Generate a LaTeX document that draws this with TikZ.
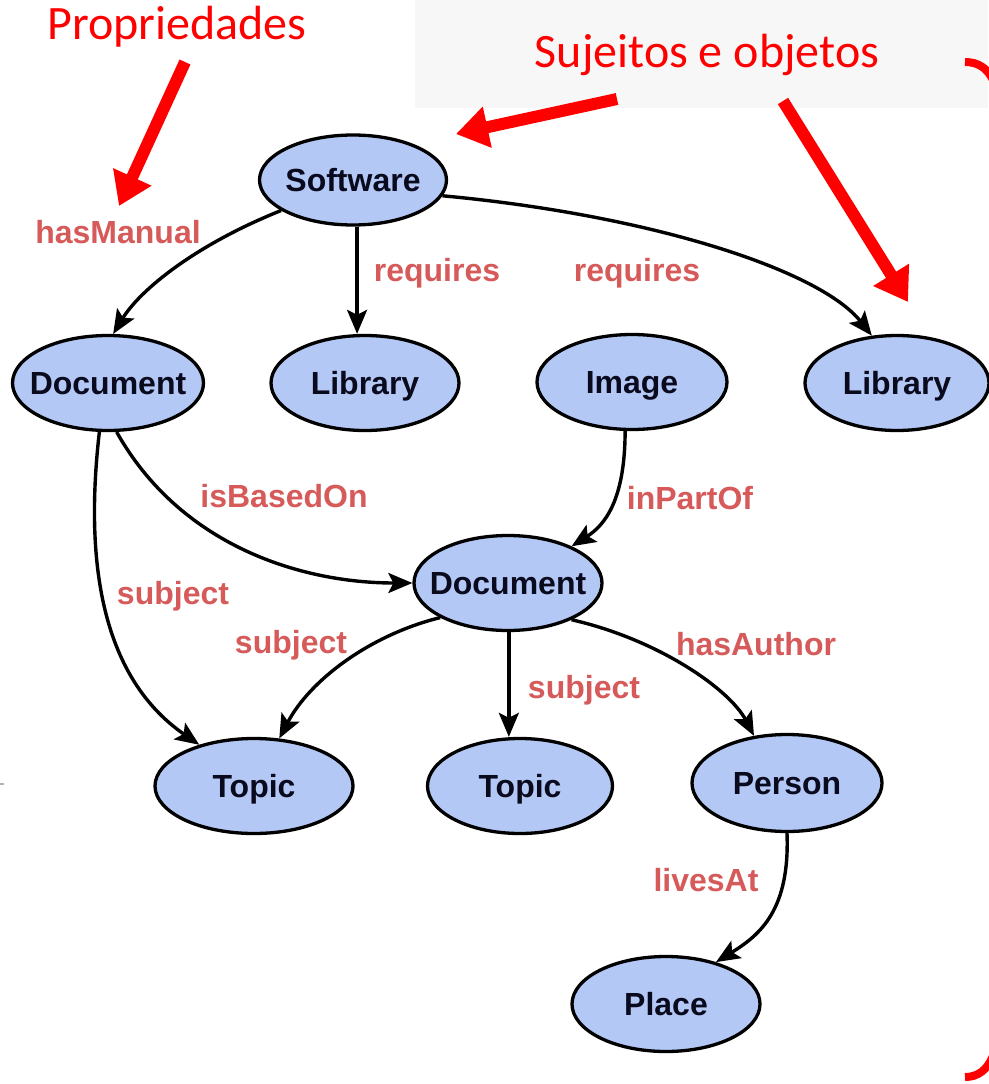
\documentclass[tikz,border=0pt]{standalone}
\usepackage{fontspec}
\setmainfont{Liberation Sans}
\newfontfamily\calib{Carlito}
\usetikzlibrary{shapes.geometric,arrows.meta}

\definecolor{nodefill}{HTML}{B4C8F5}
\definecolor{nodetext}{HTML}{0A0A1E}
\definecolor{lbl}{HTML}{D65A5A}
\definecolor{ann}{HTML}{FF0000}
\definecolor{band}{HTML}{F7F7F7}

% zero-width text box so that the ellipse keeps its minimum size
\newcommand{\ent}[1]{\makebox[0pt][c]{#1}}

\begin{document}
\begin{tikzpicture}[x=1pt,y=-1pt,
  ent/.style={ellipse, draw=black, line width=3.3pt, fill=nodefill, inner sep=0pt,
    minimum width=190pt, minimum height=95pt, text height=23pt, text depth=0pt,
    font=\fontsize{32}{36}\selectfont\bfseries, text=nodetext},
  rel/.style={font=\fontsize{32}{36}\selectfont\bfseries, text=lbl, inner sep=0pt},
  edge/.style={-{Stealth[length=24pt,width=20pt,inset=5pt]}, line width=3.4pt},
  note/.style={font=\calib\fontsize{48}{56}\selectfont, text=ann, inner sep=0pt},
  callout/.style={-{Triangle[length=32pt,width=40pt]}, line width=12pt, draw=ann},
]
\useasboundingbox (0,0) rectangle (988,1084);
\fill[band] (415,0) rectangle (988,108);

% entities
\node[ent, minimum width=187pt, minimum height=90pt] (sw) at (353,180) {\ent{Software}};
\node[ent, minimum width=191pt] (doc1) at (108,383) {\ent{Document}};
\node[ent, minimum width=188pt] (lib1) at (365,383) {\ent{Library}};
\node[ent] (img) at (632,382) {\ent{Image}};
\node[ent, minimum width=184pt] (lib2) at (897,383) {\ent{Library}};
\node[ent, minimum width=188pt] (doc2) at (508,583) {\ent{Document}};
\node[ent, minimum width=198pt] (top1) at (254,786) {\ent{Topic}};
\node[ent, minimum width=185pt] (top2) at (520,786) {\ent{Topic}};
\node[ent, minimum height=97pt] (per) at (787,783) {\ent{Person}};
\node[ent, minimum width=188pt] (pl) at (666,1004) {\ent{Place}};

% relations
\draw[edge] (sw.203) .. controls (195,245) and (140,290) .. (doc1.84);
\draw[edge] (sw.-85) -- (sw.-85 |- lib1.north);
\draw[edge] (sw.-10) .. controls (650,215) and (820,270) .. (lib2.118);
\draw[edge] (doc1.-100) .. controls (80,600) and (120,690) .. (top1.143);
\draw[edge] (doc1.-80) .. controls (180,545) and (300,583) .. (doc2.west);
\draw[edge] (img.-98) .. controls (625,500) and (605,525) .. (doc2.30);
\draw[edge] (doc2.-153) .. controls (370,635) and (310,680) .. (top1.62);
\draw[edge] (doc2.-89) -- (doc2.-89 |- top2.north);
\draw[edge] (doc2.-30) .. controls (660,640) and (730,690) .. (per.125);
\draw[edge] (per.-90) .. controls (790,910) and (760,935) .. (pl.40);

% relation labels
\node[rel] (l1) at (118,232) {hasManual};
\node[rel] (l2) at (437,273) {requires};
\node[rel] (l3) at (637,273) {requires};
\node[rel] (l4) at (284,496) {isBasedOn};
\node[rel] (l5) at (690,498) {inPartOf};
\node[rel] (l6) at (173,596) {subject};
\node[rel] (l7) at (291,645) {subject};
\node[rel] (l8) at (584,690) {subject};
\node[rel] (l9) at (756,644) {hasAuthor};
\node[rel] (l10) at (706,880) {livesAt};

% annotations
\node[note] (props) at (177,27) {Propriedades};
\node[note] (subj) at (707,55) {Sujeitos e objetos};
\coordinate (a1) at (185,62);
\coordinate (a1t) at (119,206);
\coordinate (a2) at (617,99);
\coordinate (a2t) at (456,134);
\coordinate (a3) at (783,101);
\coordinate (a3t) at (908,302);
\draw[callout] (a1) -- (a1t);
\draw[callout] (a2) -- (a2t);
\draw[callout] (a3) -- (a3t);

% bracket ends at the right edge
\draw[ann, line width=8pt] (965,62) .. controls (978,62) and (987,68) .. (993,80);
\draw[ann, line width=8pt] (965,1077) .. controls (978,1077) and (987,1070) .. (993,1056);
\draw[gray!60, line width=1.5pt] (0,784) -- (4,784);
\end{tikzpicture}
\end{document}
